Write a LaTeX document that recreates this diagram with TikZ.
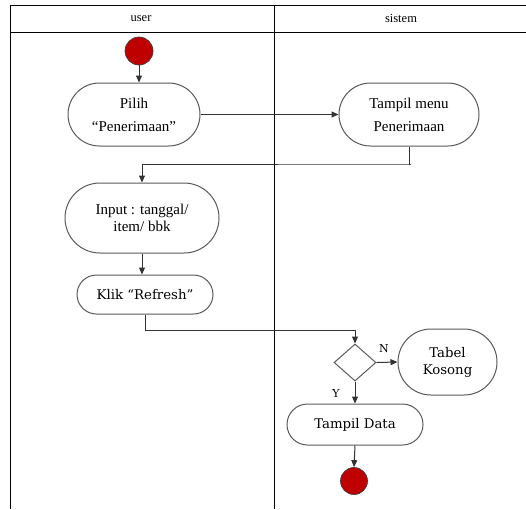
\documentclass[tikz,border=0pt]{standalone}
\usepackage{fontspec}
\setmainfont{Liberation Serif}
\newfontfamily\slabfont{DejaVu Serif}
\usetikzlibrary{shapes.misc,shapes.geometric,arrows.meta}
\begin{document}
\begin{tikzpicture}[x=1pt,y=-1pt,
  act/.style={rounded rectangle, draw=black!65, line width=1pt, align=center, inner sep=0pt,
    font=\fontsize{15}{17}\selectfont},
  wideact/.style={act, font=\fontsize{15}{23}\selectfont},
  slabact/.style={act, font=\slabfont\fontsize{13.3}{17}\selectfont},
  dot/.style={circle, draw=black!75, fill=red!75!black, line width=0.7pt, inner sep=0pt},
  decis/.style={diamond, draw=black!65, line width=1pt, inner sep=0pt, minimum width=42pt, minimum height=37pt},
  arr/.style={draw=black!80, line width=1pt, -{Triangle[length=7pt,width=6pt]}},
  lane/.style={line width=1pt, draw=black},
  lbl/.style={font=\slabfont\fontsize{11}{12}\selectfont, inner sep=0pt}
]
\useasboundingbox (0,0) rectangle (526,509);
% swimlane frame
\draw[lane] (10,509) -- (10,5) -- (526,5);
\draw[lane] (10,32) -- (526,32);
\draw[lane] (274,5) -- (274,509);
\node[font=\fontsize{12.5}{14}\selectfont] (huser) at (141,19) {user};
\node[font=\fontsize{12.5}{14}\selectfont] (hsis) at (401,18) {sistem};
% nodes
\node[dot, minimum size=28pt] (start) at (139,51) {};
\node[wideact, minimum width=132pt, minimum height=63pt] (pilih) at (134,114.5) {Pilih\\“Penerimaan”};
\node[wideact, minimum width=140pt, minimum height=63pt] (menu) at (409,114.5) {Tampil menu\\Penerimaan};
\node[act, minimum width=154pt, minimum height=70pt] (input) at (142,218) {Input : tanggal/\\item/ bbk};
\node[slabact, minimum width=136pt, minimum height=39pt] (klik) at (145,294.5) {Klik “Refresh”};
\node[decis] (dec) at (355,362.5) {};
\node[slabact, minimum width=99pt, minimum height=66pt] (tabel) at (447.5,362) {Tabel\\Kosong};
\node[slabact, minimum width=136pt, minimum height=41pt] (tampil) at (355,424.5) {Tampil Data};
\node[dot, minimum size=27pt] (end) at (354,481) {};
\coordinate (c1) at (411,164);
\coordinate (c2) at (145,330);
% connectors
\draw[arr] (start.south) -- (start.south |- pilih.north);
\draw[arr] (pilih.east) -- (menu.west);
\draw[arr] (menu.south) |- (c1) -| (input.north);
\draw[arr] (input.south) -- (input.south |- klik.north);
\draw[arr] (klik.south) |- (c2) -| (dec.north);
\draw[arr] (dec.east) -- (tabel.west);
\draw[arr] (dec.south) -- (tampil.north);
\draw[arr] (tampil.south) -- (end.north);
\node[lbl] (nl) at (384,349) {N};
\node[lbl] (yl) at (336,393) {Y};
\end{tikzpicture}
\end{document}
